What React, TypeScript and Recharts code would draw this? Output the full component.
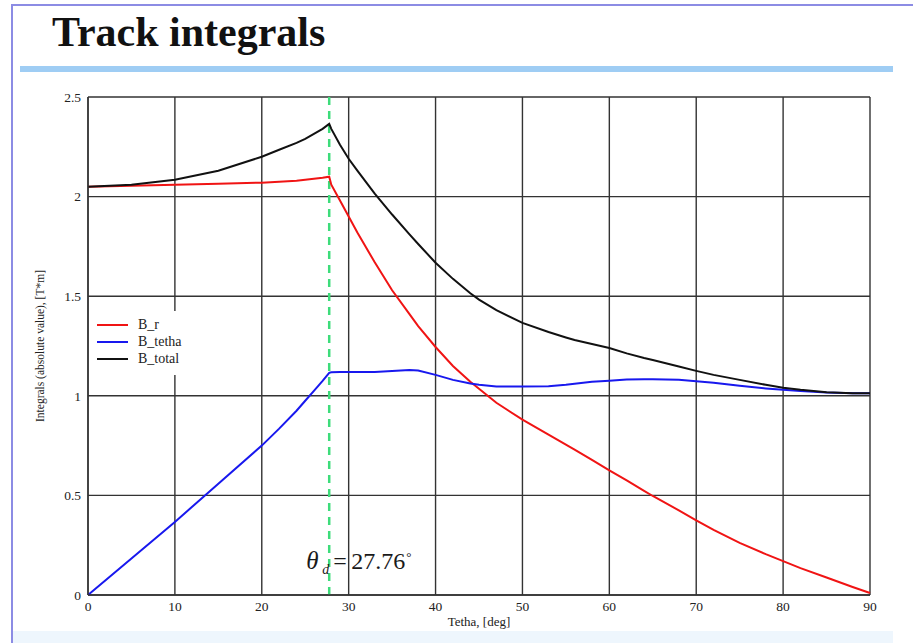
import React from "react";
import {
  LineChart,
  Line,
  XAxis,
  YAxis,
  CartesianGrid,
  Legend,
  ReferenceLine,
} from "recharts";

// Tetha, deg
const THETA = [
  0, 5, 10, 15, 20, 22, 24, 25, 26, 27, 27.76, 28, 29, 30, 31, 33, 35, 37, 38,
  40, 42, 44, 45, 47, 50, 53, 55, 56, 58, 60, 62, 64, 65, 68, 70, 72, 75, 78,
  80, 82, 85, 88, 90,
];

// integrals, T*m
const B_R = [
  2.05, 2.055, 2.06, 2.065, 2.07, 2.075, 2.08, 2.085, 2.09, 2.095, 2.1, 2.06,
  1.98, 1.9, 1.82, 1.67, 1.53, 1.41, 1.35, 1.245, 1.15, 1.07, 1.035, 0.965,
  0.88, 0.805, 0.755, 0.73, 0.678, 0.626, 0.575, 0.523, 0.497, 0.425, 0.375,
  0.327, 0.262, 0.205, 0.17, 0.135, 0.088, 0.04, 0.01,
];

const B_TETHA = [
  0, 0.183, 0.367, 0.558, 0.75, 0.835, 0.925, 0.975, 1.025, 1.075, 1.115,
  1.118, 1.12, 1.12, 1.12, 1.12, 1.125, 1.13, 1.127, 1.105, 1.08, 1.062, 1.055,
  1.047, 1.047, 1.048, 1.055, 1.06, 1.07, 1.076, 1.082, 1.083, 1.083, 1.08,
  1.073, 1.065, 1.05, 1.037, 1.03, 1.024, 1.017, 1.013, 1.013,
];

const B_TOTAL = [
  2.05, 2.06, 2.085, 2.13, 2.2, 2.235, 2.27, 2.29, 2.315, 2.34, 2.365, 2.34,
  2.26, 2.19, 2.13, 2.015, 1.91, 1.81, 1.762, 1.668, 1.587, 1.515, 1.483, 1.43,
  1.366, 1.32, 1.293, 1.28, 1.26, 1.24, 1.213, 1.19, 1.18, 1.147, 1.125, 1.105,
  1.08, 1.055, 1.04, 1.03, 1.018, 1.013, 1.013,
];

const X_TICKS = [0, 10, 20, 30, 40, 50, 60, 70, 80, 90];
const Y_TICKS = [0, 0.5, 1, 1.5, 2, 2.5];
const THETA_D = 27.76;

const data = THETA.map((t, i) => ({
  t,
  r: B_R[i],
  tetha: B_TETHA[i],
  total: B_TOTAL[i],
}));

const SERIF = "'Liberation Serif', 'Times New Roman', serif";

// legend drawn like the mathcad one: short line + name
const LegendBox = ({ payload }: any) => (
  <div style={{ paddingLeft: 5, paddingTop: 5 }}>
    {(payload || []).map((p: any) => (
      <div
        key={p.value}
        style={{ display: "flex", alignItems: "center", height: 17 }}
      >
        <span
          style={{
            display: "inline-block",
            width: 31,
            height: 2,
            background: p.color,
            marginRight: 10,
          }}
        />
        <span style={{ fontFamily: SERIF, fontSize: 14, color: "#222" }}>
          {p.value}
        </span>
      </div>
    ))}
  </div>
);

// θd = 27.76° next to the dashed line
const ThetaLabel = ({ viewBox }: any) => {
  if (!viewBox) return null;
  const x = viewBox.x;
  const base = viewBox.y + viewBox.height - 26;
  return (
    <g fill="#1a1a1a">
      <text x={x - 23} y={base} fontFamily={SERIF} fontSize={25} fontStyle="italic">
        θ
      </text>
      <text x={x - 7} y={base + 5} fontFamily={SERIF} fontSize={14} fontStyle="italic">
        d
      </text>
      <text x={x + 4} y={base} fontFamily={SERIF} fontSize={24}>
        =
      </text>
      <text x={x + 22} y={base} fontFamily={SERIF} fontSize={24}>
        27.76
      </text>
      <text x={x + 77} y={base - 8} fontFamily={SERIF} fontSize={13}>
        °
      </text>
    </g>
  );
};

export default function App() {
  return (
    <div
      style={{
        position: "absolute",
        left: 0,
        top: 0,
        width: 913,
        height: 643,
        background: "#fff",
        overflow: "hidden",
      }}
    >
      {/* slide frame */}
      <div style={{ position: "absolute", left: 11, top: 4, width: 902, height: 2, background: "#8c8ce4" }} />
      <div style={{ position: "absolute", left: 11, top: 4, width: 2, height: 639, background: "#8c8ce4" }} />
      <div style={{ position: "absolute", left: 20, top: 66, width: 873, height: 6, background: "#9fcdf4" }} />
      <div style={{ position: "absolute", left: 13, top: 631, width: 880, height: 12, background: "#eef6fd" }} />
      <div
        style={{
          position: "absolute",
          left: 52,
          top: 11,
          fontFamily: SERIF,
          fontWeight: "bold",
          fontSize: 42,
          lineHeight: "42px",
          color: "#111",
        }}
      >
        Track integrals
      </div>

      <div style={{ position: "absolute", left: 0, top: 0 }}>
        <LineChart
          width={913}
          height={643}
          data={data}
          margin={{ top: 97, right: 43, bottom: 18, left: 28 }}
        >
          <CartesianGrid stroke="#333" strokeWidth={1.4} />
          <XAxis
            dataKey="t"
            type="number"
            domain={[0, 90]}
            ticks={X_TICKS}
            height={30}
            tickLine={false}
            tickSize={0}
            tickMargin={6}
            axisLine={{ stroke: "#333", strokeWidth: 1.4 }}
            tick={{ fontFamily: SERIF, fontSize: 13.5, fill: "#222" }}
            label={{
              value: "Tetha, [deg]",
              position: "insideBottom",
              offset: -1,
              style: { fontFamily: SERIF, fontSize: 13, fill: "#222" },
            }}
          />
          <YAxis
            type="number"
            domain={[0, 2.5]}
            ticks={Y_TICKS}
            width={60}
            tickLine={false}
            tickSize={0}
            tickMargin={7}
            axisLine={{ stroke: "#333", strokeWidth: 1.4 }}
            tick={{ fontFamily: SERIF, fontSize: 13.5, fill: "#222" }}
            label={{
              value: "Integrals (absolute value), [T*m]",
              angle: -90,
              position: "insideLeft",
              offset: 12,
              style: {
                textAnchor: "middle",
                fontFamily: SERIF,
                fontSize: 11.5,
                fill: "#222",
              },
            }}
          />
          <ReferenceLine
            x={THETA_D}
            stroke="#3ddc7a"
            strokeWidth={2.5}
            strokeDasharray="8 6"
            label={(props: any) => <ThetaLabel {...props} />}
          />
          <Legend
            layout="vertical"
            align="center"
            verticalAlign="middle"
            content={<LegendBox />}
            wrapperStyle={{
              left: 92,
              top: 311,
              width: 103,
              height: 64,
              background: "#fff",
            }}
          />
          <Line
            name="B_r"
            dataKey="r"
            type="linear"
            stroke="#f01414"
            strokeWidth={2}
            dot={false}
            isAnimationActive={false}
          />
          <Line
            name="B_tetha"
            dataKey="tetha"
            type="linear"
            stroke="#1818ee"
            strokeWidth={2}
            dot={false}
            isAnimationActive={false}
          />
          <Line
            name="B_total"
            dataKey="total"
            type="linear"
            stroke="#111111"
            strokeWidth={2}
            dot={false}
            isAnimationActive={false}
          />
        </LineChart>
      </div>
    </div>
  );
}
